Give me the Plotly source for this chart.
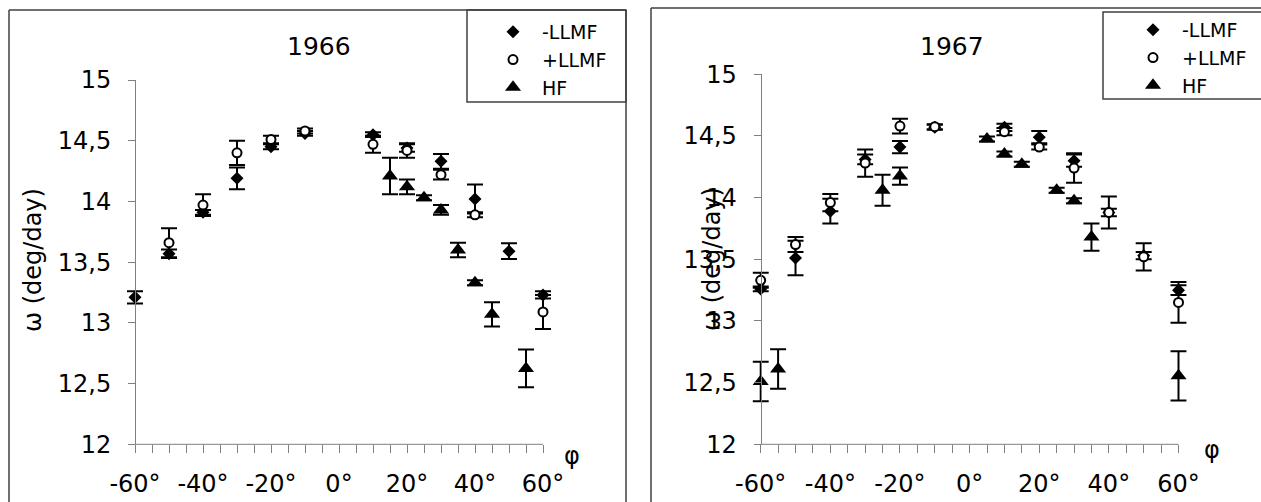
import plotly.graph_objects as go

W, H = 1261, 502


def fx(x):
    return x / W


def fy(y):
    return 1 - y / H


# ---------------- data: 1966 ----------------
x66_neg = [-60, -50, -40, -30, -20, -10, 10, 20, 30, 40, 50, 60]
y66_neg = [13.21, 13.57, 13.91, 14.19, 14.45, 14.56, 14.55, 14.44, 14.33, 14.02, 13.59, 13.23]
e66_neg = [0.05, 0.035, 0.02, 0.09, 0.02, 0.02, 0.02, 0.03, 0.06, 0.12, 0.065, 0.03]

x66_pos = [-50, -40, -30, -20, -10, 10, 20, 30, 40, 60]
y66_pos = [13.66, 13.97, 14.40, 14.51, 14.58, 14.47, 14.42, 14.22, 13.89, 13.09]
e66_pos = [0.12, 0.09, 0.10, 0.03, 0.02, 0.07, 0.06, 0.04, 0.02, 0.14]

x66_hf = [15, 20, 25, 30, 35, 40, 45, 55]
y66_hf = [14.21, 14.12, 14.03, 13.93, 13.60, 13.33, 13.07, 12.625]
e66_hf = [0.15, 0.06, 0.02, 0.04, 0.06, 0.02, 0.10, 0.155]

# ---------------- data: 1967 ----------------
x67_neg = [-60, -50, -40, -30, -20, -10, 10, 20, 30, 40, 50, 60]
y67_neg = [13.26, 13.51, 13.89, 14.31, 14.41, 14.57, 14.57, 14.49, 14.30, 13.88, 13.53, 13.25]
e67_neg = [0.02, 0.14, 0.10, 0.04, 0.05, 0.02, 0.03, 0.05, 0.05, 0.03, 0.03, 0.04]

x67_pos = [-60, -50, -40, -30, -20, -10, 10, 20, 30, 40, 50, 60]
y67_pos = [13.33, 13.62, 13.96, 14.28, 14.58, 14.575, 14.535, 14.41, 14.24, 13.88, 13.52, 13.15]
e67_pos = [0.06, 0.06, 0.07, 0.11, 0.06, 0.02, 0.03, 0.02, 0.12, 0.13, 0.11, 0.165]

x67_hf = [-60, -55, -25, -20, 5, 10, 15, 25, 30, 35, 60]
y67_hf = [12.51, 12.61, 14.06, 14.175, 14.475, 14.354, 14.27, 14.06, 13.975, 13.68, 12.555]
e67_hf = [0.16, 0.16, 0.125, 0.07, 0.02, 0.02, 0.02, 0.02, 0.02, 0.11, 0.2]

series_names = ["-LLMF", "+LLMF", "HF"]
titles = ["1966", "1967"]
x_ticks = [-60, -40, -20, 0, 20, 40, 60]
x_ticklabels = ["-60°", "-40°", "-20°", "0°", "20°", "40°", "60°"]
y_ticks = [12, 12.5, 13, 13.5, 14, 14.5, 15]
X_MIN, X_MAX = -60, 60
PAD = 2.4  # extra degrees so edge error-bar caps are not clipped

FONT = "DejaVu Sans"
AXC = "#7f7f7f"

fig = go.Figure()

panels = [
    (x66_neg, y66_neg, e66_neg, x66_pos, y66_pos, e66_pos, x66_hf, y66_hf, e66_hf, "x", "y", "legend"),
    (x67_neg, y67_neg, e67_neg, x67_pos, y67_pos, e67_pos, x67_hf, y67_hf, e67_hf, "x2", "y2", "legend2"),
]

for (xn, yn, en, xp, yp, ep, xh, yh, eh, xa, ya, lg) in panels:
    eb = dict(type="data", visible=True, color="black", thickness=2, width=8)
    fig.add_trace(go.Scatter(
        x=xn, y=yn, mode="markers", name=series_names[0], legend=lg,
        xaxis=xa, yaxis=ya, cliponaxis=False,
        marker=dict(symbol="diamond", size=10, color="black"),
        error_y=dict(array=en, **eb),
    ))
    fig.add_trace(go.Scatter(
        x=xp, y=yp, mode="markers", name=series_names[1], legend=lg,
        xaxis=xa, yaxis=ya, cliponaxis=False,
        marker=dict(symbol="circle", size=9, color="white", line=dict(color="black", width=2)),
        error_y=dict(array=ep, **eb),
    ))
    fig.add_trace(go.Scatter(
        x=xh, y=yh, mode="markers", name=series_names[2], legend=lg,
        xaxis=xa, yaxis=ya, cliponaxis=False,
        marker=dict(symbol="triangle-up", size=14, color="black"),
        error_y=dict(array=eh, **eb),
    ))


def xdomain(p_lo, p_hi):
    # p_lo / p_hi: pixel positions of X_MIN / X_MAX
    k = (p_hi - p_lo) / (X_MAX - X_MIN)
    return [fx(p_lo - PAD * k), fx(p_hi + PAD * k)]


xcommon = dict(
    range=[X_MIN - PAD, X_MAX + PAD], showgrid=False, zeroline=False, showline=False,
    ticks="outside", ticklen=8, tickcolor=AXC, tickwidth=1,
    tickmode="array", tickvals=x_ticks, ticktext=x_ticklabels,
    tickfont=dict(family=FONT, size=24, color="black"), ticklabelstandoff=10,
    minor=dict(tickmode="array", tickvals=list(range(-60, 61, 5)), ticks="outside",
               ticklen=8, tickcolor=AXC, tickwidth=1),
    automargin=False,
)
ycommon = dict(
    range=[12, 15], showgrid=False, zeroline=False, showline=True, linecolor=AXC, linewidth=1,
    ticks="outside", ticklen=7, tickcolor=AXC, tickwidth=1,
    tickmode="array", tickvals=y_ticks,
    tickfont=dict(family=FONT, size=24, color="black"), ticklabelstandoff=12,
    automargin=False, anchor="free",
)

fig.update_layout(
    width=W, height=H,
    margin=dict(l=0, r=0, t=0, b=0, autoexpand=False),
    paper_bgcolor="white", plot_bgcolor="white",
    separators=", ",
    font=dict(family=FONT, color="black"),
    xaxis=dict(domain=xdomain(135, 543), anchor="y", **xcommon),
    yaxis=dict(domain=[fy(444.3), fy(80)], position=fx(135), **ycommon),
    xaxis2=dict(domain=xdomain(760.7, 1178.5), anchor="y2", **xcommon),
    yaxis2=dict(domain=[fy(444.3), fy(74.3)], position=fx(760.7), **ycommon),
    legend=dict(x=fx(484), y=fy(13), xanchor="left", yanchor="top",
                bgcolor="rgba(0,0,0,0)", borderwidth=0, itemwidth=48,
                font=dict(family=FONT, size=19, color="black"), tracegroupgap=0),
    legend2=dict(x=fx(1124), y=fy(11), xanchor="left", yanchor="top",
                 bgcolor="rgba(0,0,0,0)", borderwidth=0, itemwidth=48,
                 font=dict(family=FONT, size=19, color="black"), tracegroupgap=0),
)

FR = "#404040"
shapes = [
    # left panel frame
    dict(type="line", x0=fx(9), x1=fx(9), y0=fy(10), y1=fy(503)),
    dict(type="line", x0=fx(9), x1=fx(626), y0=fy(10), y1=fy(10)),
    dict(type="line", x0=fx(626), x1=fx(626), y0=fy(10), y1=fy(503)),
    # right panel frame
    dict(type="line", x0=fx(651), x1=fx(651), y0=fy(8), y1=fy(503)),
    dict(type="line", x0=fx(651), x1=fx(1262), y0=fy(8), y1=fy(8)),
    # legend boxes
    dict(type="rect", x0=fx(467), x1=fx(626), y0=fy(10), y1=fy(102)),
    dict(type="rect", x0=fx(1103), x1=fx(1263), y0=fy(12), y1=fy(99)),
]
for s in shapes:
    s.update(xref="paper", yref="paper", line=dict(color=FR, width=1.5))
# x-axis lines spanning exactly -60..60
for xr, yr in (("x", "y domain"), ("x2", "y2 domain")):
    shapes.append(dict(type="line", xref=xr, yref=yr, x0=X_MIN, x1=X_MAX, y0=0, y1=0,
                       line=dict(color=AXC, width=1), layer="below"))
fig.update_layout(shapes=shapes)

ann = [
    dict(text=titles[0], x=fx(319), y=fy(46), font=dict(size=25)),
    dict(text=titles[1], x=fx(952), y=fy(46), font=dict(size=25)),
    dict(text="ω (deg/day)", x=fx(33), y=fy(260), textangle=-90, font=dict(size=24)),
    dict(text="ω (deg/day)", x=fx(712), y=fy(259), textangle=-90, font=dict(size=24)),
    dict(text="φ", x=fx(572), y=fy(456), font=dict(size=24)),
    dict(text="φ", x=fx(1212), y=fy(450), font=dict(size=24)),
]
for a in ann:
    a.update(xref="paper", yref="paper", showarrow=False, xanchor="center", yanchor="middle")
    a["font"].update(family=FONT, color="black")
fig.update_layout(annotations=ann)

fig.write_html("out.html")
